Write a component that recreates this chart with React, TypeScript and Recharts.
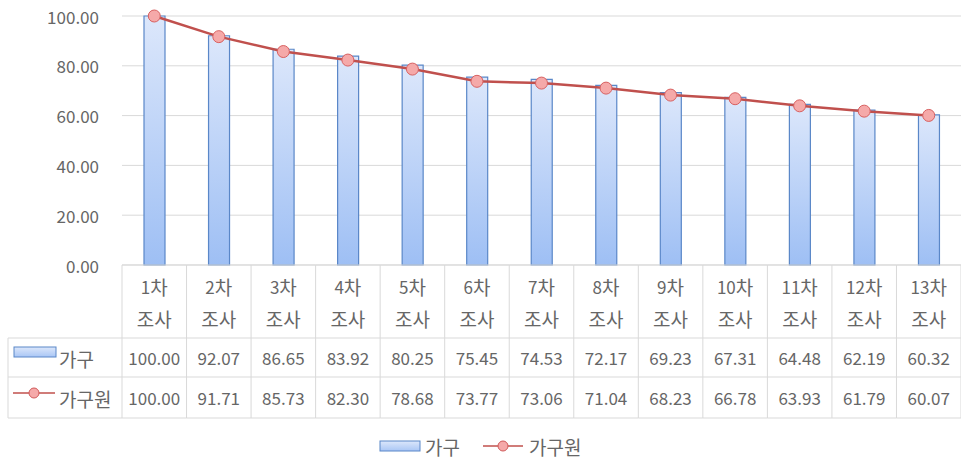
import React from "react";
import { ComposedChart, Bar, Line, XAxis, YAxis, CartesianGrid } from "recharts";

const categories = ["1차", "2차", "3차", "4차", "5차", "6차", "7차", "8차", "9차", "10차", "11차", "12차", "13차"];
const categorySuffix = "조사";
const households = [100.0, 92.07, 86.65, 83.92, 80.25, 75.45, 74.53, 72.17, 69.23, 67.31, 64.48, 62.19, 60.32];
const members = [100.0, 91.71, 85.73, 82.3, 78.68, 73.77, 73.06, 71.04, 68.23, 66.78, 63.93, 61.79, 60.07];
const yTicks = [0, 20, 40, 60, 80, 100];
const seriesNames = ["가구", "가구원"];

const data = categories.map((c, i) => ({ name: c, household: households[i], member: members[i] }));

const W = 961;
const H = 460;
const PLOT_LEFT = 122;
const PLOT_TOP = 16;
const PLOT_BOTTOM = 265;
const BAND = (W - PLOT_LEFT) / categories.length;
const ROW1 = 338;
const ROW2 = 377;
const ROW3 = 418;
const TABLE_LEFT = 8;

const TEXT = "#666666";
const BORDER = "#d9d9d9";
const FONT = "'Noto Sans CJK KR', 'Noto Sans', sans-serif";
const BAR_STROKE = "#5a87c8";
const LINE_STROKE = "#c0504d";
const DOT_FILL = "#f5a9a9";
const NUM_SIZE = 17;
const KO_SIZE = 19;

const BarIcon = ({ x, y, w, h }: { x: number; y: number; w: number; h: number }) => (
  <rect x={x} y={y} width={w} height={h} fill="url(#legendGrad)" stroke={BAR_STROKE} strokeWidth={1} />
);
const LineIcon = ({ x, y, w }: { x: number; y: number; w: number }) => (
  <g>
    <line x1={x} y1={y} x2={x + w} y2={y} stroke={LINE_STROKE} strokeWidth={1.5} />
    <circle cx={x + w / 2} cy={y} r={5} fill={DOT_FILL} stroke="#d05a5a" strokeWidth={1} />
  </g>
);

const TableTick = (props: any) => {
  const { x, payload } = props;
  const i = categories.indexOf(payload.value);
  const left = x - BAND / 2;
  const right = x + BAND / 2;
  const isLast = i === categories.length - 1;
  const label = String(payload.value);
  const num = label.replace(/[^0-9]/g, "");
  const rest = label.replace(/[0-9]/g, "");
  return (
    <g fontFamily={FONT} fill={TEXT}>
      <line x1={left} y1={PLOT_BOTTOM} x2={left} y2={ROW3} stroke={BORDER} />
      {isLast && <line x1={right} y1={PLOT_BOTTOM} x2={right} y2={ROW3} stroke={BORDER} />}
      {[PLOT_BOTTOM, ROW1, ROW2, ROW3].map((yy) => (
        <line key={yy} x1={left} y1={yy} x2={right} y2={yy} stroke={BORDER} />
      ))}
      <text x={x} y={286} textAnchor="middle" dominantBaseline="central" fill={TEXT}>
        <tspan fontSize={NUM_SIZE}>{num}</tspan>
        <tspan fontSize={KO_SIZE}>{rest}</tspan>
      </text>
      <text x={x} y={318} textAnchor="middle" dominantBaseline="central" fill={TEXT} fontSize={KO_SIZE}>{categorySuffix}</text>
      <text x={x} y={357} textAnchor="middle" dominantBaseline="central" fill={TEXT} fontSize={NUM_SIZE}>{households[i].toFixed(2)}</text>
      <text x={x} y={397} textAnchor="middle" dominantBaseline="central" fill={TEXT} fontSize={NUM_SIZE}>{members[i].toFixed(2)}</text>
      {i === 0 && (
        <g>
          {[ROW1, ROW2, ROW3].map((yy) => (
            <line key={yy} x1={TABLE_LEFT} y1={yy} x2={left} y2={yy} stroke={BORDER} />
          ))}
          <line x1={TABLE_LEFT} y1={ROW1} x2={TABLE_LEFT} y2={ROW3} stroke={BORDER} />
          <BarIcon x={14} y={347} w={42} h={10} />
          <text x={59} y={358} dominantBaseline="central" fill={TEXT} fontSize={KO_SIZE}>{seriesNames[0]}</text>
          <LineIcon x={13} y={393} w={42} />
          <text x={59} y={398} dominantBaseline="central" fill={TEXT} fontSize={KO_SIZE}>{seriesNames[1]}</text>
          {/* legend */}
          <BarIcon x={380} y={441} w={40} h={10} />
          <text x={425} y={446} dominantBaseline="central" fill={TEXT} fontSize={KO_SIZE}>{seriesNames[0]}</text>
          <LineIcon x={483} y={446} w={40} />
          <text x={529} y={446} dominantBaseline="central" fill={TEXT} fontSize={KO_SIZE}>{seriesNames[1]}</text>
        </g>
      )}
    </g>
  );
};

const YTick = (props: any) => {
  const { x, y, payload } = props;
  return (
    <text x={x} y={y} textAnchor="end" dominantBaseline="central" fontFamily={FONT} fontSize={NUM_SIZE} fill={TEXT}>
      {Number(payload.value).toFixed(2)}
    </text>
  );
};

export default function App() {
  return (
    <div style={{ width: W, height: H, background: "#fff" }}>
      <style>{`body{margin:0}`}</style>
      <ComposedChart
        width={W}
        height={H}
        data={data}
        margin={{ top: PLOT_TOP, right: 0, left: 0, bottom: 0 }}
        barCategoryGap={0}
      >
        <defs>
          <linearGradient id="barGrad" x1="0" y1="0" x2="0" y2="1">
            <stop offset="0%" stopColor="#dce7fb" />
            <stop offset="100%" stopColor="#9ebff4" />
          </linearGradient>
          <linearGradient id="legendGrad" x1="0" y1="0" x2="0" y2="1">
            <stop offset="0%" stopColor="#dce7fb" />
            <stop offset="100%" stopColor="#a9c6f5" />
          </linearGradient>
        </defs>
        <CartesianGrid vertical={false} stroke={BORDER} strokeWidth={1} />
        <XAxis
          dataKey="name"
          axisLine={false}
          tickLine={false}
          interval={0}
          tick={<TableTick />}
          height={H - PLOT_BOTTOM}
        />
        <YAxis
          domain={[0, 100]}
          ticks={yTicks}
          width={PLOT_LEFT}
          axisLine={false}
          tickLine={false}
          tickSize={0}
          tickMargin={23}
          tick={<YTick />}
        />
        <Bar dataKey="household" barSize={21} fill="url(#barGrad)" stroke={BAR_STROKE} strokeWidth={1.2} isAnimationActive={false} />
        <Line
          dataKey="member"
          stroke={LINE_STROKE}
          strokeWidth={2.5}
          dot={{ r: 6, fill: DOT_FILL, stroke: "#d86060", strokeWidth: 1 }}
          activeDot={false}
          isAnimationActive={false}
        />
      </ComposedChart>
    </div>
  );
}
